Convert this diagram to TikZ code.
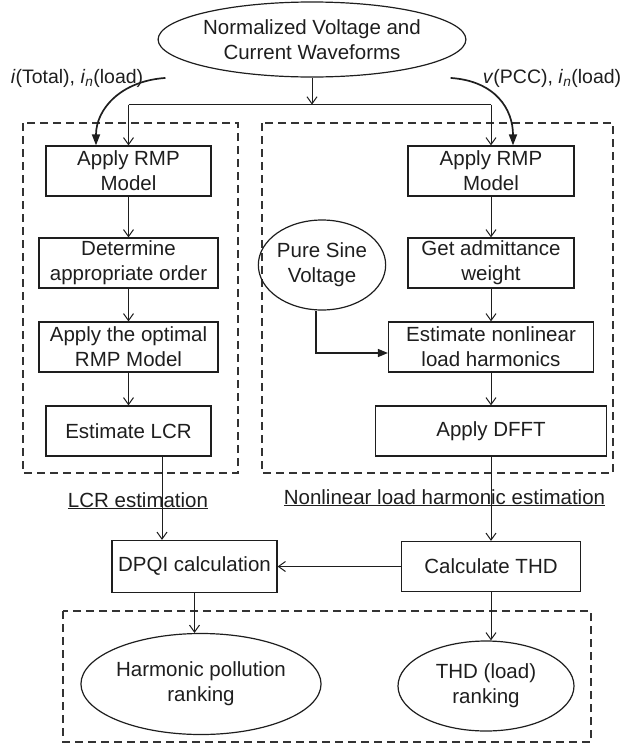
\documentclass[tikz,border=0pt]{standalone}
\usepackage{fontspec}
\setmainfont{Liberation Sans}
\usepackage{tikz}
\usetikzlibrary{arrows.meta,shapes.geometric,calc}
\definecolor{InkGray}{HTML}{1E1E1E}
\definecolor{DashGray}{HTML}{333333}

\begin{document}
\begin{tikzpicture}[x=1pt, y=-1pt,
  every node/.style={font=\fontsize{20.5}{25}\selectfont, align=center, text=InkGray},
  box/.style={draw=InkGray, line width=1.2pt, inner sep=0pt, minimum height=50pt},
  oval/.style={draw=InkGray, line width=1.2pt, ellipse, inner sep=0pt},
  signal/.style={font=\fontsize{19.5}{24}\selectfont, inner sep=0pt},
  flow/.style={line width=1pt, InkGray, -{Straight Barb[length=7pt,width=10pt]}},
  feed/.style={line width=1.3pt, InkGray, -{Triangle[length=10pt,width=8pt]}},
  curvearrow/.style={line width=1.7pt, InkGray, -{Triangle[length=11pt,width=8pt]}},
  group/.style={draw=DashGray, line width=1.2pt, dash pattern=on 8pt off 5pt}]
  \useasboundingbox (0,0) rectangle (626,745);
  \draw[group] (23,123) rectangle (238,473);
  \draw[group] (262,123) rectangle (613,473);
  \draw[group] (63,611) rectangle (591,742);
  \node[oval, minimum width=288pt, minimum height=75pt] (wave) at (312,39.5) {Normalized Voltage and\\Current Waveforms};
  \node[signal, anchor=base] (inL) at (77,83) {\textit{i}(Total), \textit{i}\textsubscript{\textit{n}}(load)};
  \node[signal, anchor=base] (inR) at (552,83) {\textit{v}(PCC), \textit{i}\textsubscript{\textit{n}}(load)};
  \node[box, minimum width=165pt] (rmpL) at (128.5,171) {Apply RMP\\Model};
  \node[box, minimum width=179pt] (order) at (128.5,263) {Determine\\appropriate order};
  \node[box, minimum width=179pt] (optimal) at (128.5,347) {Apply the optimal\\RMP Model};
  \node[box, minimum width=165pt] (lcr) at (128.5,431) {Estimate LCR};
  \node[box, minimum width=166pt] (rmpR) at (491,171) {Apply RMP\\Model};
  \node[box, minimum width=166pt] (admit) at (491,263) {Get admittance\\weight};
  \node[box, minimum width=205pt] (nonlin) at (491,347) {Estimate nonlinear\\load harmonics};
  \node[box, minimum width=231pt] (dfft) at (491,431) {Apply DFFT};
  \node[oval, minimum width=110pt, minimum height=90pt] (sine) at (322,265) {Pure Sine\\Voltage};
  \node[anchor=base] (lcrnote) at (138,507) {\underline{LCR estimation}};
  \node[anchor=base] (harmnote) at (444.5,504) {\underline{Nonlinear load harmonic estimation}};
  \node[box, minimum width=165pt, minimum height=52pt] (dpqi) at (194.5,566.5) {DPQI calculation};
  \node[box, minimum width=179pt] (thd) at (491,566.5) {Calculate THD};
  \node[oval, minimum width=199pt, minimum height=101pt] (pollution) at (201,684) {Harmonic pollution\\ranking};
  \node[oval, minimum width=176pt, minimum height=90pt] (thdrank) at (486,686) {THD (load)\\ranking};
  \coordinate (split) at ($(wave.south)+(0,27)$);
  \draw[flow] (wave.south) -- (split);
  \draw[line width=1pt, InkGray] (rmpL.north |- split) -- (rmpR.north |- split);
  \draw[flow] (rmpL.north |- split) -- (rmpL.north);
  \draw[flow] (rmpR.north |- split) -- (rmpR.north);
  \draw[curvearrow] ([xshift=22pt]inL.east) .. controls +(-45,3) and +(0,-36) .. ([xshift=-32.5pt]rmpL.north);
  \draw[curvearrow] ([xshift=-32pt]inR.west) .. controls +(45,3) and +(0,-36) .. ([xshift=22pt]rmpR.north);
  \draw[flow] (rmpL) -- (order);
  \draw[flow] (order) -- (optimal);
  \draw[flow] (optimal) -- (lcr);
  \draw[flow] (rmpR) -- (admit);
  \draw[flow] (admit) -- (nonlin);
  \draw[flow] (nonlin) -- (dfft);
  \draw[feed] ([xshift=-6pt]sine.south) |- ([yshift=-6pt]nonlin.west);
  \draw[flow] ([xshift=33.5pt]lcr.south) -- ([xshift=33.5pt]lcr.south |- dpqi.north);
  \draw[flow] (dfft) -- (thd);
  \draw[flow] (thd) -- (dpqi);
  \draw[flow] (dpqi.south) -- (dpqi.south |- pollution.north);
  \draw[flow] (thd.south) -- (thd.south |- thdrank.north);
\end{tikzpicture}
\end{document}
